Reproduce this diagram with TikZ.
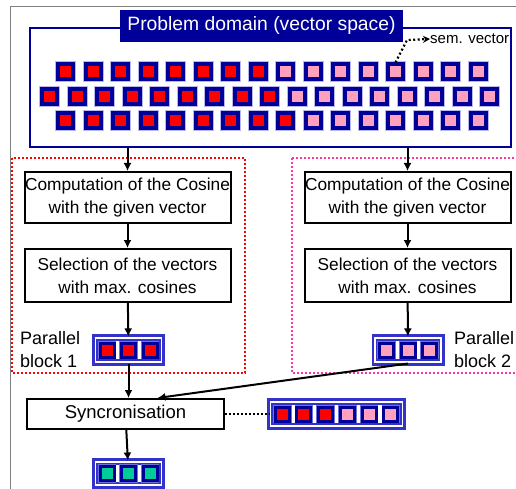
\documentclass[tikz,border=0pt]{standalone}
\usepackage{fontspec}
\setmainfont{Liberation Sans}
\usetikzlibrary{arrows.meta,positioning,calc}
\definecolor{navy}{RGB}{0,0,153}
\definecolor{frameblue}{RGB}{51,51,204}
\definecolor{vred}{RGB}{255,0,0}
\definecolor{vpink}{RGB}{255,160,190}
\definecolor{vgreen}{RGB}{0,204,153}
\definecolor{dotpink}{RGB}{255,51,170}

\begin{document}
\begin{tikzpicture}[x=1pt,y=-1pt,line join=miter,
  box/.style={draw,line width=2pt,minimum width=206,inner sep=0pt,align=center,
    font=\fontsize{17.3}{23}\selectfont},
  arr/.style={line width=2pt,-{Latex[length=8pt,width=8pt]}},
  sq/.style={draw=navy,line width=4pt,minimum size=15,inner sep=0pt,
    preaction={draw=frameblue!35,line width=6pt}},
  sqs/.style={draw=navy,line width=3pt,minimum size=14,inner sep=0pt,
    preaction={draw=frameblue!70,line width=4.5pt}},
  vbox/.style={draw=frameblue,line width=2.6pt,double=white,double distance=1.8pt,
    inner sep=0pt,minimum height=24.5},
  frame/.style={line width=2pt,dash pattern=on 2pt off 2pt},
  lbl/.style={align=left,inner sep=0pt,font=\fontsize{18}{23}\selectfont}]
\useasboundingbox (0,0) rectangle (516,489);
\draw[gray,line width=1pt] (516,7)--(10,7)--(10,489);

% problem domain
\node[draw=navy,line width=2.6pt,minimum width=481,minimum height=119] (domain) at (270.5,87.5) {};
\node[fill=navy,text=white,minimum width=283,minimum height=32,inner sep=0pt,
  font=\fontsize{19.3}{19}\selectfont] (title) at (261.5,26) {Problem domain (vector space)};
\foreach \i in {0,...,15}{
  \pgfmathsetmacro\c{\i<8?"vred":"vpink"}
  \node[sq,fill=\c] (a\i) at (65.5+27.5*\i,72) {};}
\foreach \i in {0,...,16}{
  \pgfmathsetmacro\c{\i<9?"vred":"vpink"}
  \node[sq,fill=\c] (b\i) at (49.5+27.5*\i,96.5) {};}
\foreach \i in {0,...,15}{
  \pgfmathsetmacro\c{\i<9?"vred":"vpink"}
  \node[sq,fill=\c] (c\i) at (65.5+27.5*\i,121) {};}
\node[anchor=west,inner sep=0pt,font=\fontsize{15}{15}\selectfont] (sem) at (430,39) {sem. vector};
\draw[line width=2.2pt,dash pattern=on 2pt off 2.5pt,-{Stealth[length=7pt,width=7pt]}]
  (a12.north) -- (407,40) -- (sem.west);

% parallel blocks
\draw[frame,red] (12,158) rectangle (245,373);
\draw[frame,dotpink] (292,158) rectangle (540,373);
\node[box,minimum height=51] (comp1) at (127.5,197.5) {Computation of the Cosine\\with the given vector};
\node[box,minimum height=53] (sel1) at (127.5,275.5) {Selection of the vectors\\with max. cosines};
\node[box,minimum height=51] (comp2) at (407.5,197.5) {Computation of the Cosine\\with the given vector};
\node[box,minimum height=53] (sel2) at (407.5,275.5) {Selection of the vectors\\with max. cosines};

\node[vbox,minimum width=66] (par1) at (128.5,350) {};
\node[vbox,minimum width=66] (par2) at (408,350) {};
\foreach \i in {-1,0,1}{
  \node[sqs,fill=vred] at ($(par1)+(21.5*\i,0)$) {};
  \node[sqs,fill=vpink] at ($(par2)+(21.5*\i,0)$) {};}
\node[lbl,anchor=north west] (lab1) at (20,331) {Parallel\\block 1};
\node[lbl,anchor=north west] (lab2) at (454,331) {Parallel\\block 2};

% synchronisation
\node[box,minimum width=197,minimum height=30,font=\fontsize{18.5}{20}\selectfont] (sync) at (125.5,414) {Syncronisation};
\node[vbox,minimum width=132] (comb) at (336.5,414) {};
\foreach \i/\c in {0/vred,1/vred,2/vred,3/vpink,4/vpink,5/vpink}
  \node[sqs,fill=\c] at ($(comb)+(21.7*\i-54.25,0)$) {};
\node[vbox,minimum width=66,minimum height=23.5] (res) at (128.5,473.5) {};
\foreach \i in {-1,0,1}
  \node[sqs,fill=vgreen] at ($(res)+(21.5*\i,0)$) {};

\draw[arr] (domain.south -| comp1) -- (comp1);
\draw[arr] (domain.south -| comp2) -- (comp2);
\draw[arr] (comp1) -- (sel1);
\draw[arr] (comp2) -- (sel2);
\draw[arr] (sel1) -- (par1);
\draw[arr] (sel2) -- (par2);
\draw[arr] (par1) -- (par1 |- sync.north);
\draw[arr] (par2.south) -- ([xshift=32pt]sync.north);
\draw[arr] (sync) -- (res);
\draw[line width=2.2pt,dash pattern=on 2pt off 2pt] (sync.east) -- (comb.west);
\end{tikzpicture}
\end{document}
